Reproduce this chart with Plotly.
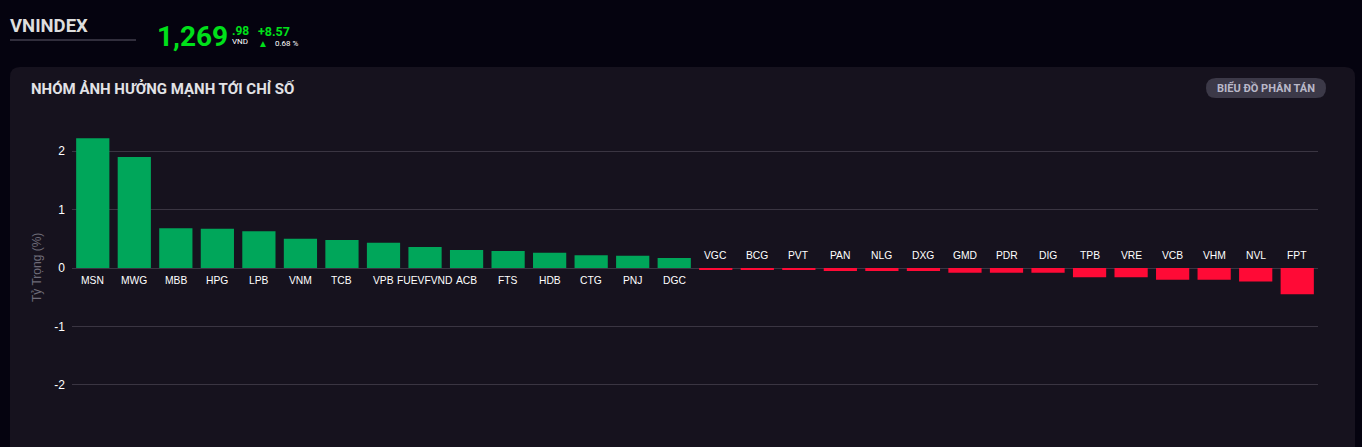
import plotly.graph_objects as go

tickers = ["MSN", "MWG", "MBB", "HPG", "LPB", "VNM", "TCB", "VPB", "FUEVFVND", "ACB",
           "FTS", "HDB", "CTG", "PNJ", "DGC", "VGC", "BCG", "PVT", "PAN", "NLG",
           "DXG", "GMD", "PDR", "DIG", "TPB", "VRE", "VCB", "VHM", "NVL", "FPT"]
weights = [2.22, 1.90, 0.68, 0.67, 0.63, 0.50, 0.48, 0.43, 0.36, 0.31,
           0.29, 0.26, 0.22, 0.21, 0.17, -0.02, -0.03, -0.03, -0.05, -0.05,
           -0.05, -0.08, -0.08, -0.08, -0.16, -0.16, -0.20, -0.20, -0.23, -0.45]
y_ticks = [-2, -1, 0, 1, 2]

W, H = 1362, 447
ML, MR, MT, MB = 72, 44, 116, 27
PW, PH = W - ML - MR, H - MT - MB

def px(x):
    return (x - ML) / PW

def py(y):
    return (H - MB - y) / PH

GREEN = "#00a65a"
RED = "#ff0a36"
colors = [GREEN if v >= 0 else RED for v in weights]

fig = go.Figure(go.Bar(x=tickers, y=weights, marker=dict(color=colors, line=dict(width=0)),
                       hoverinfo="x+y"))

def rounded(x0, x1, y0, y1, r, color):
    rx, ry = r / PW, r / PH
    X0, X1, Y0, Y1 = px(x0), px(x1), py(y1), py(y0)
    path = (f"M {X0+rx},{Y1} L {X1-rx},{Y1} Q {X1},{Y1} {X1},{Y1-ry} "
            f"L {X1},{Y0+ry} Q {X1},{Y0} {X1-rx},{Y0} L {X0+rx},{Y0} "
            f"Q {X0},{Y0} {X0},{Y0+ry} L {X0},{Y1-ry} Q {X0},{Y1} {X0+rx},{Y1} Z")
    return dict(type="path", path=path, xref="paper", yref="paper", fillcolor=color,
                line=dict(width=0), layer="below")

shapes = [rounded(10, 1355, 67, 470, 10, "#16121e"),
          rounded(1206, 1326, 78, 98, 10, "#3c3948"),
          dict(type="line", xref="paper", yref="paper", x0=px(10), x1=px(136),
               y0=py(40), y1=py(40), line=dict(color="#5e5b6b", width=1))]

ann = []
def text(x, y, t, size, color, bold=False, xanchor="left", yanchor="middle", family="Roboto"):
    ann.append(dict(x=px(x), y=py(y), xref="paper", yref="paper", text=f"<b>{t}</b>" if bold else t,
                    showarrow=False, xanchor=xanchor, yanchor=yanchor,
                    font=dict(size=size, color=color, family=family)))

text(8, 26, "VNINDEX", 18.5, "#dedede", bold=True)
text(155, 36, "1,269", 28, "#00e01a", bold=True)
text(230, 31, ".98", 12, "#00e01a", bold=True)
text(230, 42, "VND", 8, "#ffffff")
text(256, 31, "+8.57", 12.5, "#00e01a", bold=True)
text(273, 43, "0.68 %", 8, "#ffffff")
text(256, 43, "▲", 10, "#00e01a")
text(29, 88, "NHÓM ẢNH HƯỞNG MẠNH TỚI CHỈ SỐ", 15, "#e2e2e6", bold=True)
text(1266, 88, "BIỂU ĐỒ PHÂN TÁN", 11, "#b9b8c8", bold=True, xanchor="center")
ann.append(dict(x=px(37), y=py(268), xref="paper", yref="paper", text="Tỷ Trọng (%)",
                showarrow=False, textangle=-90, xanchor="center", yanchor="middle",
                font=dict(size=12, color="#6e6b78", family="Liberation Sans")))

for t, v in zip(tickers, weights):
    ann.append(dict(x=t, y=0, xref="x", yref="y", text=t, showarrow=False,
                    xanchor="center", yanchor="top" if v >= 0 else "bottom",
                    yshift=-5 if v >= 0 else 5,
                    font=dict(size=10.3, color="#ffffff", family="Liberation Sans")))

fig.update_layout(
    width=W, height=H,
    margin=dict(l=ML, r=MR, t=MT, b=MB, pad=0),
    paper_bgcolor="#05030f", plot_bgcolor="rgba(0,0,0,0)",
    bargap=0.2, showlegend=False,
    shapes=shapes, annotations=ann,
    xaxis=dict(showticklabels=False, showgrid=False, zeroline=False, showline=False,
               range=[-0.5, len(tickers) - 0.5], fixedrange=True),
    yaxis=dict(range=[-2.6, 2.6], tickvals=y_ticks, ticktext=[str(v) for v in y_ticks],
               showgrid=True, gridcolor="#3a3542", gridwidth=1,
               zeroline=True, zerolinecolor="#3a3542", zerolinewidth=1,
               ticks="", ticklabelstandoff=6,
               tickfont=dict(size=12, color="#ffffff", family="Liberation Sans"),
               showline=False, fixedrange=True),
    font=dict(family="Liberation Sans"),
)

fig.write_html("out.html", config={"displayModeBar": False})
